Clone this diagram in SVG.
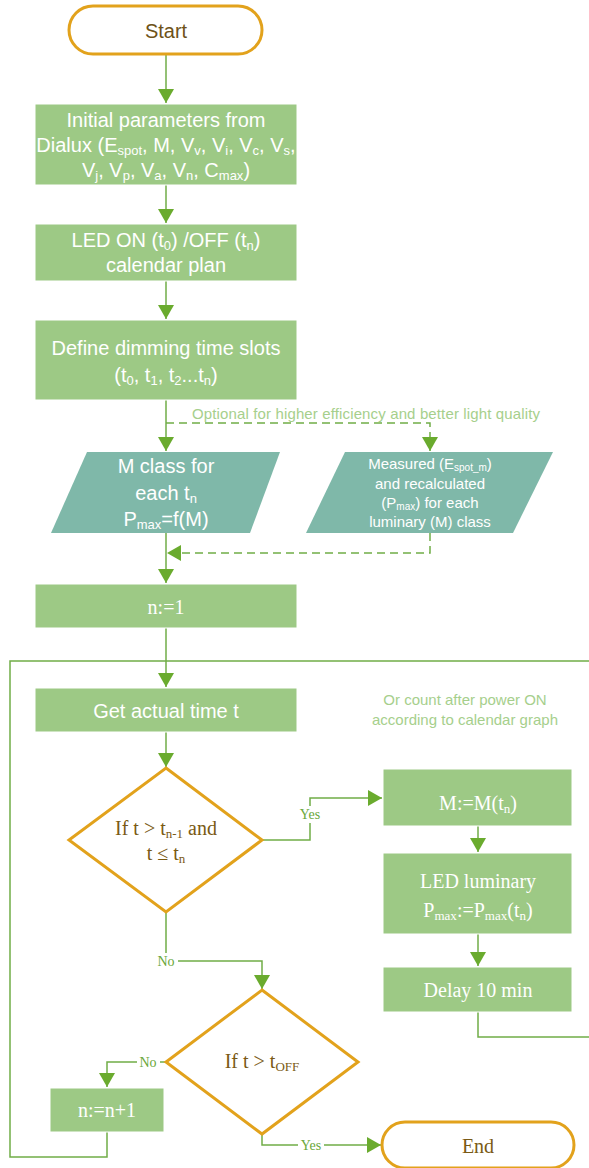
<svg xmlns="http://www.w3.org/2000/svg" width="589" height="1168" viewBox="0 0 589 1168">
<style>
.term{fill:#fff;stroke:#E2A21C;stroke-width:3}
.box{fill:#9DC985;stroke:#fff;stroke-width:1}
.para{fill:#7FB8A9}
.dia{fill:#fff;stroke:#E2A21C;stroke-width:3}
.wt{font-family:"Liberation Sans",Arial,sans-serif;font-size:20px;fill:#fff;text-anchor:middle}
.wts{font-family:"Liberation Sans",Arial,sans-serif;font-size:15px;fill:#fff;text-anchor:middle}
.ws{font-family:"Liberation Serif","Times New Roman",serif;font-size:20px;fill:#fff;text-anchor:middle}
.bs{font-family:"Liberation Serif","Times New Roman",serif;font-size:20px;fill:#7A5A14;text-anchor:middle}
.bt{font-family:"Liberation Sans",Arial,sans-serif;font-size:20px;fill:#6E5218;text-anchor:middle}
.note{font-family:"Liberation Sans",Arial,sans-serif;font-size:15px;fill:#A6CF8C}
.lab{font-family:"Liberation Serif","Times New Roman",serif;font-size:14px;fill:#6AA83A;text-anchor:middle}
.c{fill:none;stroke:#70AD47;stroke-width:1.5}
.d{fill:none;stroke:#70AD47;stroke-width:1.5;stroke-dasharray:8 5}
</style>
<defs>
<marker id="ah" viewBox="0 0 14 16" refX="14" refY="8" markerWidth="14" markerHeight="16" markerUnits="userSpaceOnUse" orient="auto">
<path d="M0,0 L14,8 L0,16 z" fill="#6AAB2E"/>
</marker>
</defs>

<g id="connectors">
<path class="c" d="M166,54 V103" marker-end="url(#ah)"/>
<path class="c" d="M166,185 V223" marker-end="url(#ah)"/>
<path class="c" d="M166,281 V319" marker-end="url(#ah)"/>
<path class="c" d="M166,400 V451" marker-end="url(#ah)"/>
<path class="d" d="M166,423 H430 V451" marker-end="url(#ah)"/>
<path class="c" d="M166,533 V583" marker-end="url(#ah)"/>
<path class="d" d="M430,533 V553 H167" marker-end="url(#ah)"/>
<path class="c" d="M166,628 V687" marker-end="url(#ah)"/>
<path class="c" d="M107,1132 V1157 H10 V661 H166"/>
<path class="c" d="M478,1012 V1037 H592 V661 H166"/>
<path class="c" d="M166,732 V767" marker-end="url(#ah)"/>
<path class="c" d="M262,840 H310 V798 H382" marker-end="url(#ah)"/>
<path class="c" d="M166,912 V961 H262 V989" marker-end="url(#ah)"/>
<path class="c" d="M478,826 V852" marker-end="url(#ah)"/>
<path class="c" d="M478,934 V966" marker-end="url(#ah)"/>
<path class="c" d="M166,1062 H107 V1087" marker-end="url(#ah)"/>
<path class="c" d="M262,1134 V1145 H381" marker-end="url(#ah)"/>
<text class="note" x="192" y="419" textLength="348" lengthAdjust="spacing">Optional for higher efficiency and better light quality</text>
<rect x="297" y="806" width="26" height="17" fill="#fff"/>
<text class="lab" x="310" y="819">Yes</text>
<rect x="155" y="953" width="23" height="16" fill="#fff"/>
<text class="lab" x="166" y="966">No</text>
<rect x="137" y="1054" width="23" height="16" fill="#fff"/>
<text class="lab" x="148" y="1067">No</text>
<rect x="298" y="1137" width="26" height="17" fill="#fff"/>
<text class="lab" x="311" y="1150">Yes</text>
</g>

<g id="start">
<rect class="term" x="69" y="6" width="193" height="48" rx="24"/>
<text class="bt" x="166" y="38">Start</text>
</g>

<g id="init">
<rect class="box" x="35" y="104" width="262" height="81"/>
<text class="wt" x="166" y="127">Initial parameters from</text>
<text class="wt" x="166" y="152">Dialux (E<tspan font-size="13" dy="3">spot</tspan><tspan dy="-3">, M, V</tspan><tspan font-size="13" dy="3">v</tspan><tspan dy="-3">, V</tspan><tspan font-size="13" dy="3">i</tspan><tspan dy="-3">, V</tspan><tspan font-size="13" dy="3">c</tspan><tspan dy="-3">, V</tspan><tspan font-size="13" dy="3">s</tspan><tspan dy="-3">,</tspan></text>
<text class="wt" x="166" y="177">V<tspan font-size="13" dy="3">j</tspan><tspan dy="-3">, V</tspan><tspan font-size="13" dy="3">p</tspan><tspan dy="-3">, V</tspan><tspan font-size="13" dy="3">a</tspan><tspan dy="-3">, V</tspan><tspan font-size="13" dy="3">n</tspan><tspan dy="-3">, C</tspan><tspan font-size="13" dy="3">max</tspan><tspan dy="-3">)</tspan></text>
</g>

<g id="calendar">
<rect class="box" x="35" y="224" width="262" height="57"/>
<text class="wt" x="166" y="247">LED ON (t<tspan font-size="13" dy="3">0</tspan><tspan dy="-3">) /OFF (t</tspan><tspan font-size="13" dy="3">n</tspan><tspan dy="-3">)</tspan></text>
<text class="wt" x="166" y="272">calendar plan</text>
</g>

<g id="slots">
<rect class="box" x="35" y="320" width="262" height="80"/>
<text class="wt" x="166" y="355">Define dimming time slots</text>
<text class="wt" x="166" y="382">(t<tspan font-size="13" dy="3">0</tspan><tspan dy="-3">, t</tspan><tspan font-size="13" dy="3">1</tspan><tspan dy="-3">, t</tspan><tspan font-size="13" dy="3">2</tspan><tspan dy="-3">...t</tspan><tspan font-size="13" dy="3">n</tspan><tspan dy="-3">)</tspan></text>
</g>

<g id="mclass">
<polygon class="para" points="87,452 280,452 250,533 51,533"/>
<text class="wt" x="166" y="473">M class for</text>
<text class="wt" x="166" y="500">each t<tspan font-size="13" dy="3">n</tspan></text>
<text class="wt" x="166" y="526">P<tspan font-size="13" dy="3">max</tspan><tspan dy="-3">=f(M)</tspan></text>
</g>

<g id="measured">
<polygon class="para" points="345,452 553,452 513,533 306,533"/>
<text class="wts" x="430" y="469">Measured (E<tspan font-size="10" dy="2">spot_m</tspan><tspan dy="-2">)</tspan></text>
<text class="wts" x="430" y="489">and recalculated</text>
<text class="wts" x="430" y="508">(P<tspan font-size="10" dy="2">max</tspan><tspan dy="-2">) for each</tspan></text>
<text class="wts" x="430" y="527">luminary (M) class</text>
</g>

<g id="ninit">
<rect class="box" x="35" y="584" width="262" height="44"/>
<text class="ws" x="166" y="614">n:=1</text>
</g>

<g id="gettime">
<rect class="box" x="35" y="688" width="262" height="44"/>
<text class="wt" x="166" y="718">Get actual time t</text>
<text class="note" x="465" y="705" text-anchor="middle" font-size="14.5">Or count after power ON</text>
<text class="note" x="465" y="725" text-anchor="middle" font-size="14.5">according to calendar graph</text>
</g>

<g id="cond1">
<polygon class="dia" points="166,768 262,840 166,912 69,840"/>
<text class="bs" x="166" y="835" font-size="19">If t &gt; t<tspan font-size="13" dy="3">n-1</tspan><tspan dy="-3"> and</tspan></text>
<text class="bs" x="166" y="860" font-size="19">t ≤ t<tspan font-size="13" dy="3">n</tspan></text>
</g>

<g id="mset">
<rect class="box" x="383" y="769" width="189" height="57"/>
<text class="ws" x="478" y="810">M:=M(t<tspan font-size="13" dy="3">n</tspan><tspan dy="-3">)</tspan></text>
</g>

<g id="luminary">
<rect class="box" x="383" y="853" width="189" height="81"/>
<text class="ws" x="478" y="888">LED luminary</text>
<text class="ws" x="478" y="917">P<tspan font-size="13" dy="3">max</tspan><tspan dy="-3">:=P</tspan><tspan font-size="13" dy="3">max</tspan><tspan dy="-3">(t</tspan><tspan font-size="13" dy="3">n</tspan><tspan dy="-3">)</tspan></text>
</g>

<g id="delay">
<rect class="box" x="383" y="967" width="189" height="45"/>
<text class="ws" x="478" y="997">Delay 10 min</text>
</g>

<g id="cond2">
<polygon class="dia" points="262,990 358,1062 262,1134 166,1062"/>
<text class="bs" x="262" y="1068">If t &gt; t<tspan font-size="13" dy="3">OFF</tspan></text>
</g>

<g id="ninc">
<rect class="box" x="50" y="1088" width="114" height="44"/>
<text class="ws" x="107" y="1117">n:=n+1</text>
</g>

<g id="end">
<rect class="term" x="382" y="1122" width="192" height="46" rx="23"/>
<text class="bs" x="478" y="1153" font-size="22">End</text>
</g>
</svg>
